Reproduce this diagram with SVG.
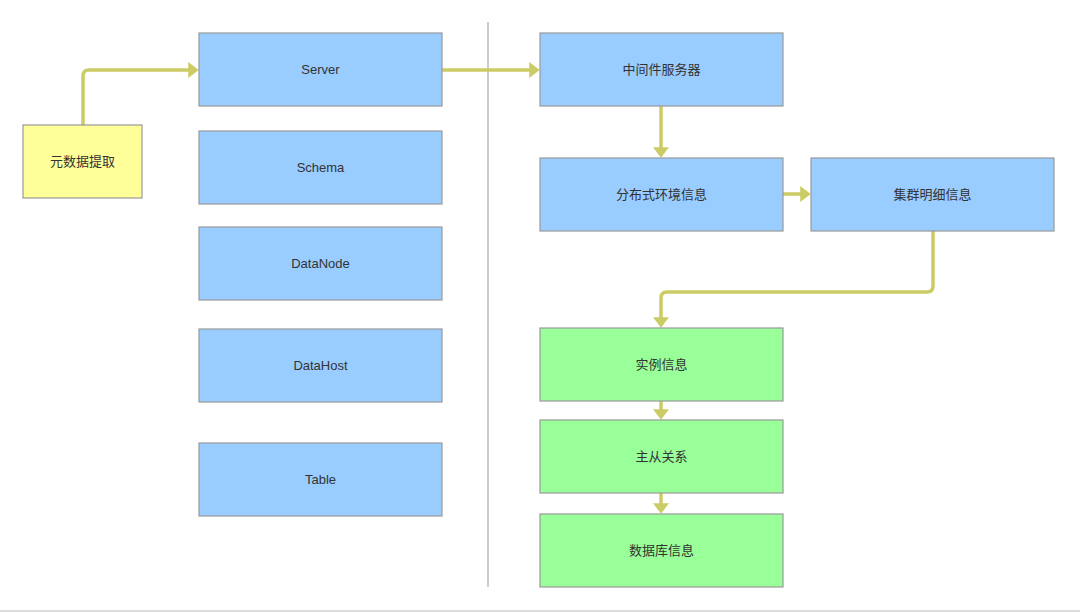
<svg xmlns="http://www.w3.org/2000/svg" width="1080" height="612" viewBox="0 0 1080 612">
<style>
.n rect{stroke:#999;stroke-width:1.2}
.b rect{fill:#99CCFF}
.g rect{fill:#99FF99}
.y rect{fill:#FFFF99}
text{font-family:"Liberation Sans","Noto Sans CJK SC",sans-serif;font-size:13px;fill:#333;text-anchor:middle;dominant-baseline:central}
.c path{fill:none;stroke:#CCCC66;stroke-width:3.5;stroke-linejoin:round}
</style>
<defs>
<marker id="ah" markerWidth="3" markerHeight="4.6" refX="0.8" refY="2.3" orient="auto" markerUnits="strokeWidth" viewBox="0 0 3 4.6">
<path d="M0,0 L3,2.3 L0,4.6 Z" fill="#CCCC66"/>
</marker>
</defs>
<rect x="0" y="0" width="1080" height="612" fill="#fff"/>
<line x1="0" y1="611" x2="1080" y2="611" stroke="#ddd" stroke-width="2"/>
<line x1="488" y1="22" x2="488" y2="587" stroke="#bbb" stroke-width="1.5"/>
<g class="c" id="connectors">
<path d="M83,125 V76 Q83,70 89,70 H191" marker-end="url(#ah)"/>
<path d="M442,70 H532" marker-end="url(#ah)"/>
<path d="M661,106 V150" marker-end="url(#ah)"/>
<path d="M783,194 H803" marker-end="url(#ah)"/>
<path d="M933,231 V286 Q933,292 927,292 H667 Q661,292 661,298 V320" marker-end="url(#ah)"/>
<path d="M661,401 V412" marker-end="url(#ah)"/>
<path d="M661,493 V506" marker-end="url(#ah)"/>
</g>
<g class="n y" id="n_extract"><rect x="23" y="125" width="119" height="73"/><text x="82.5" y="161.5">元数据提取</text></g>
<g class="n b" id="n_server"><rect x="199" y="33" width="243" height="73"/><text x="320.5" y="69.5">Server</text></g>
<g class="n b" id="n_schema"><rect x="199" y="131" width="243" height="73"/><text x="320.5" y="167.5">Schema</text></g>
<g class="n b" id="n_datanode"><rect x="199" y="227" width="243" height="73"/><text x="320.5" y="263.5">DataNode</text></g>
<g class="n b" id="n_datahost"><rect x="199" y="329" width="243" height="73"/><text x="320.5" y="365.5">DataHost</text></g>
<g class="n b" id="n_table"><rect x="199" y="443" width="243" height="73"/><text x="320.5" y="479.5">Table</text></g>
<g class="n b" id="n_middleware"><rect x="540" y="33" width="243" height="73"/><text x="661.5" y="69.5">中间件服务器</text></g>
<g class="n b" id="n_distributed"><rect x="540" y="158" width="243" height="73"/><text x="661.5" y="194.5">分布式环境信息</text></g>
<g class="n b" id="n_cluster"><rect x="811" y="158" width="243" height="73"/><text x="932.5" y="194.5">集群明细信息</text></g>
<g class="n g" id="n_instance"><rect x="540" y="328" width="243" height="73"/><text x="661.5" y="364.5">实例信息</text></g>
<g class="n g" id="n_masterslave"><rect x="540" y="420" width="243" height="73"/><text x="661.5" y="456.5">主从关系</text></g>
<g class="n g" id="n_database"><rect x="540" y="514" width="243" height="73"/><text x="661.5" y="550.5">数据库信息</text></g>
</svg>
